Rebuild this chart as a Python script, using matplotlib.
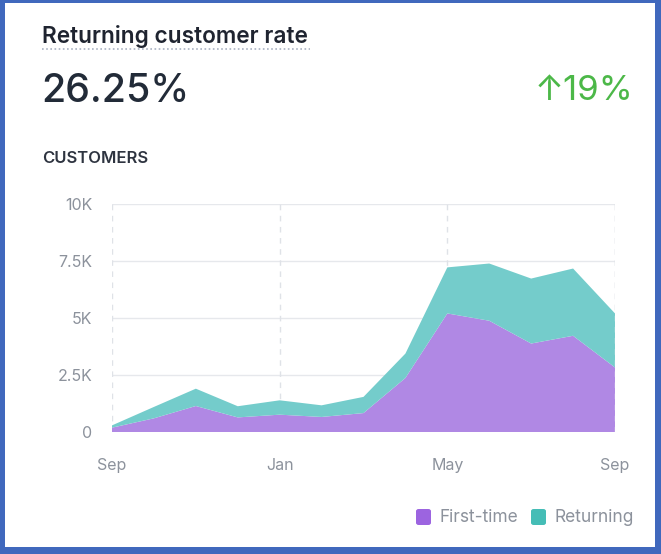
import matplotlib.pyplot as plt
from matplotlib.patches import Rectangle, FancyBboxPatch
from matplotlib.lines import Line2D
import numpy as np

# data (thousands of customers, monthly Sep -> Sep)
months = np.arange(13)
first_time = [0.19, 0.60, 1.14, 0.64, 0.76, 0.66, 0.83, 2.37, 5.20, 4.88, 3.88, 4.22, 2.83]
total = [0.29, 1.10, 1.90, 1.13, 1.39, 1.17, 1.54, 3.44, 7.22, 7.39, 6.73, 7.17, 5.20]
returning = [t - f for t, f in zip(total, first_time)]

tick_pos = [0, 4, 8, 12]
tick_labels = ["Sep", "Jan", "May", "Sep"]
ytick_pos = [0, 2.5, 5, 7.5, 10]
ytick_labels = ["0", "2.5K", "5K", "7.5K", "10K"]

PURPLE = "#b088e4"
TEAL = "#74cccb"
PURPLE_KEY = "#9c64e0"
TEAL_KEY = "#45bdb6"
GRAY = "#8c929c"
DARK = "#222b38"

plt.rcParams["font.family"] = ["Inter", "DejaVu Sans"]

W, H = 661, 554
fig = plt.figure(figsize=(W / 100, H / 100), dpi=100)

# blue frame around the card
fig.patches.append(Rectangle((0, 0), 1, 1, transform=fig.transFigure,
                             facecolor="#4068bd", edgecolor="none", zorder=-3))
fig.patches.append(Rectangle((5 / W, 7 / H), (W - 11) / W, (H - 10) / H,
                             transform=fig.transFigure, facecolor="white",
                             edgecolor="none", zorder=-2))

# header texts
fig.text(42 / W, 1 - 36 / H, "Returning customer rate", fontsize=16.3,
         fontweight="semibold", color="#1f2430", va="center", ha="left")
fig.add_artist(Line2D([42 / W, 310 / W], [1 - 49 / H, 1 - 49 / H],
                      transform=fig.transFigure, color="#a9b2c2",
                      linewidth=1.2, linestyle=(0, (1, 1.5))))
fig.text(41 / W, 1 - 91 / H, "26.25%", fontsize=28.3, fontweight="medium",
         color=DARK, va="center", ha="left")
fig.text(633 / W, 1 - 91 / H, "\u219119%", fontsize=25, color="#4cb848",
         va="center", ha="right")
fig.text(42 / W, 1 - 158 / H, "CUSTOMERS", fontsize=12, fontweight="semibold",
         color="#2e3440", va="center", ha="left")

# chart
ax = fig.add_axes([112 / W, 1 - 432 / H, (615 - 112) / W, (432 - 204) / H])
ax.patch.set_alpha(0)
ax.stackplot(months, first_time, returning, colors=[PURPLE, TEAL],
             linewidth=0, zorder=2)

ax.set_xlim(0, 12)
ax.set_ylim(0, 10)
ax.set_xticks(tick_pos)
ax.set_xticklabels(tick_labels)
ax.set_yticks(ytick_pos)
ax.set_yticklabels(ytick_labels)
ax.tick_params(axis="both", length=0, labelsize=11.5, labelcolor=GRAY)
ax.tick_params(axis="y", pad=14)
ax.tick_params(axis="x", pad=19)

for y in ytick_pos:
    ax.axhline(y, color="#e6e8ec", linewidth=1, zorder=1)
for x in tick_pos:
    ax.axvline(x, color="#dfe2e7", linewidth=1, linestyle=(0, (4, 4)), zorder=1)
# right-hand dashed edge stays visible beside the filled area
ax.axvline(12, color="#dfe2e7", linewidth=1, linestyle=(0, (4, 4)), zorder=3)
for s in ax.spines.values():
    s.set_visible(False)

# legend keys
def key(x, y, color, label):
    fig.patches.append(FancyBboxPatch((x / W, 1 - (y + 8) / H), 15 / W, 16 / H,
                                      boxstyle="round,pad=0,rounding_size=0.004",
                                      transform=fig.transFigure,
                                      facecolor=color, edgecolor="none"))
    fig.text((x + 23) / W, 1 - y / H, label, fontsize=12.5, color=GRAY,
             va="center", ha="left")

key(416, 517, PURPLE_KEY, "First-time")
key(531, 517, TEAL_KEY, "Returning")

fig.savefig("out.png", dpi=100)
